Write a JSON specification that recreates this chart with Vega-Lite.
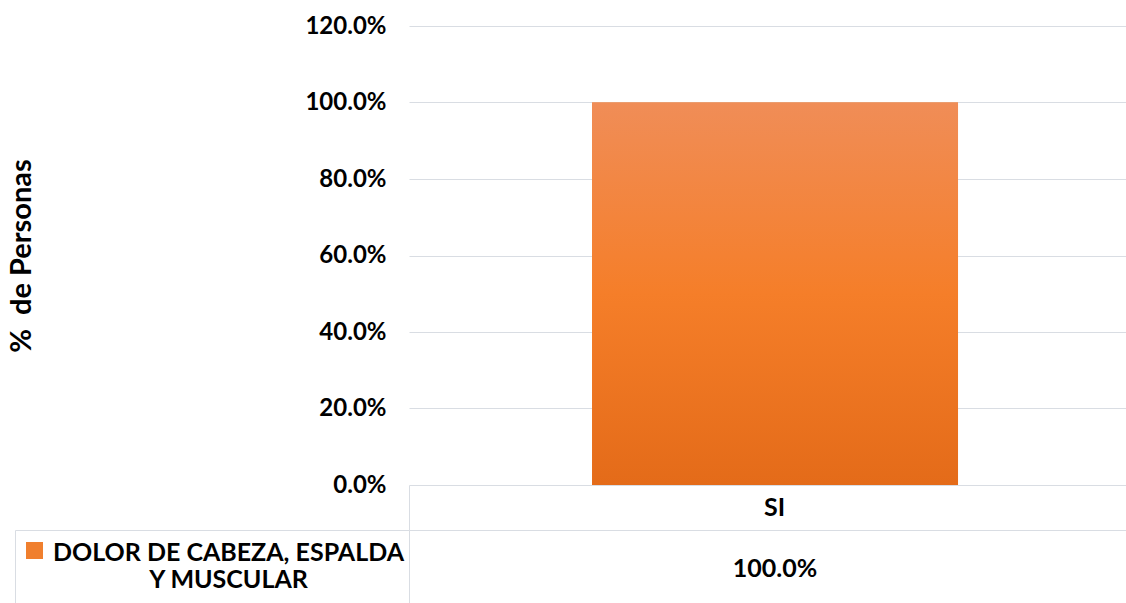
{
  "$schema": "https://vega.github.io/schema/vega-lite/v6.json",
  "data": {"values": [
    {"categoria": "SI", "serie": "DOLOR DE CABEZA, ESPALDA Y MUSCULAR", "porcentaje": 1.0}
  ]},
  "padding": {"left": 7, "top": 14, "right": 0, "bottom": 0},
  "background": "white",
  "bounds": "flush",
  "spacing": 45,
  "config": {
    "view": {"stroke": null},
    "font": "Lato",
    "axis": {"labelFont": "Lato", "labelFontWeight": "bold", "labelColor": "black", "titleFont": "Lato", "titleFontWeight": "bold", "titleColor": "black"},
    "legend": {"labelFont": "Lato"}
  },
  "resolve": {"scale": {"x": "independent", "y": "independent", "color": "independent"}},
  "vconcat": [
    {
      "width": 718,
      "height": 459,
      "layer": [
        {
          "mark": {"type": "bar"},
          "encoding": {
            "x": {"field": "categoria", "type": "nominal", "scale": {"paddingInner": 0, "paddingOuter": 0.481, "align": 0.52}, "axis": null},
            "y": {"field": "porcentaje", "type": "quantitative", "scale": {"domain": [0, 1.2], "nice": false},
              "axis": {"title": "% \u00a0de Personas", "values": [0, 0.2, 0.4, 0.6, 0.8, 1, 1.2], "format": ".1%", "tickSize": 0, "domain": false, "labelPadding": 23, "labelFontSize": 24, "grid": true, "gridColor": "#d9dde3", "titleFontSize": 29, "titlePadding": 268}},
            "color": {"field": "serie", "type": "nominal", "scale": {"range": ["#F07F2E"]},
              "legend": {"orient": "none", "legendX": -383, "legendY": 516, "title": null, "labelExpr": "''", "symbolType": "square", "symbolSize": 289, "symbolStrokeWidth": 0, "padding": 0}}
          }
        },
        {
          "mark": {"type": "bar", "color": {"gradient": "linear", "x1": 0, "y1": 0, "x2": 0, "y2": 1, "stops": [{"offset": 0, "color": "#F08D57"}, {"offset": 0.5, "color": "#F57E29"}, {"offset": 1, "color": "#E46B19"}]}},
          "encoding": {
            "x": {"field": "categoria", "type": "nominal"},
            "y": {"field": "porcentaje", "type": "quantitative"}
          }
        }
      ]
    },
    {
      "width": 718,
      "height": 73,
      "view": {"stroke": "#d9dde3"},
      "mark": {"type": "text", "font": "Lato", "fontWeight": "bold", "fontSize": 25, "dx": 7, "dy": 2, "color": "black", "baseline": "middle"},
      "encoding": {
        "x": {"field": "categoria", "type": "nominal", "scale": {"paddingInner": 0, "paddingOuter": 0},
          "axis": {"orient": "top", "title": null, "labelAngle": 0, "tickBand": "extent", "tickSize": 45, "tickColor": "#d9dde3", "domain": false, "labelPadding": -22, "labelBaseline": "middle", "labelOffset": 6, "labelFontSize": 25}},
        "y": {"field": "serie", "type": "nominal", "scale": {"paddingInner": 0, "paddingOuter": 0},
          "axis": {"title": null, "offset": 394, "tickBand": "extent", "tickSize": -394, "tickColor": "#d9dde3", "domain": true, "domainColor": "#d9dde3", "labelAlign": "center", "labelBaseline": "middle", "labelPadding": 181, "labelOffset": -14, "labelExpr": "[slice(datum.label,0,24), slice(datum.label,25)]", "labelLineHeight": 27, "labelFontSize": 25, "labelLimit": 0}},
        "text": {"field": "porcentaje", "type": "quantitative", "format": ".1%"}
      }
    }
  ]
}
